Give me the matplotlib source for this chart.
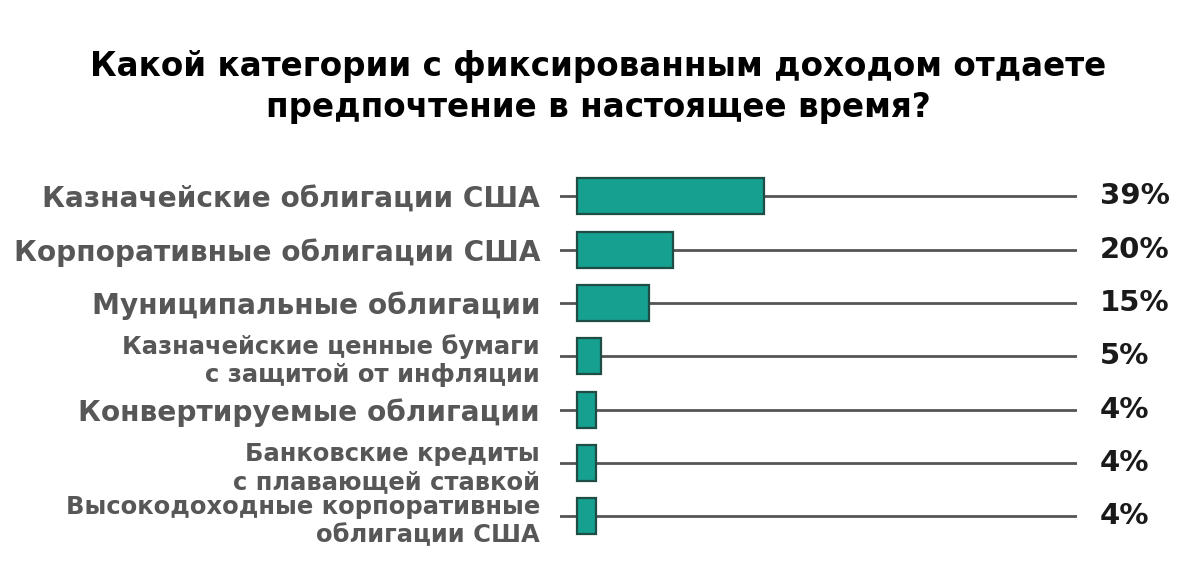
import matplotlib
matplotlib.use("Agg")
import matplotlib.pyplot as plt

categories = [
    "Казначейские облигации США",
    "Корпоративные облигации США",
    "Муниципальные облигации",
    "Казначейские ценные бумаги\nс защитой от инфляции",
    "Конвертируемые облигации",
    "Банковские кредиты\nс плавающей ставкой",
    "Высокодоходные корпоративные\nоблигации США",
]
values = [39, 20, 15, 5, 4, 4, 4]
value_labels = ["39%", "20%", "15%", "5%", "4%", "4%", "4%"]
title = "Какой категории с фиксированным доходом отдаете\nпредпочтение в настоящее время?"

plt.rcParams['font.family'] = ['DejaVu Sans']

fig = plt.figure(figsize=(11.96, 5.70), dpi=100)
fig.patch.set_facecolor('white')
ax = fig.add_axes([560/1196, 1-543/570, 517/1196, 373.3/570])

ypos = list(range(len(categories)))
for y in ypos:
    ax.axhline(y, color='#555555', lw=2.0, zorder=1)
ax.barh(ypos, values, height=0.68, color='#16a08f', edgecolor='#1e4d46',
        linewidth=1.6, zorder=2)

ax.set_xlim(-17/4.8, 500/4.8)
ax.set_ylim(len(categories)-0.5, -0.5)
ax.set_xticks([])
ax.set_yticks(ypos)
ax.set_yticklabels(categories)
for lab, cat in zip(ax.get_yticklabels(), categories):
    lab.set_fontweight('bold')
    lab.set_color('#575757')
    lab.set_linespacing(1.22)
    lab.set_fontsize(17.5 if '\n' in cat else 20.2)
ax.tick_params(axis='y', length=0, pad=14.4)
for s in ax.spines.values():
    s.set_visible(False)

for y, t in zip(ypos, value_labels):
    ax.annotate(t, xy=(1, y), xycoords=('axes fraction', 'data'),
                xytext=(16.5, 0), textcoords='offset points',
                ha='left', va='center', fontsize=21, fontweight='bold',
                color='#1a1a1a')

fig.text(598/1196, 1-87/570, title, ha='center', va='center', fontsize=23.5,
         fontweight='bold', color='black', linespacing=1.33)

fig.savefig('out.png', dpi=100, facecolor='white')
